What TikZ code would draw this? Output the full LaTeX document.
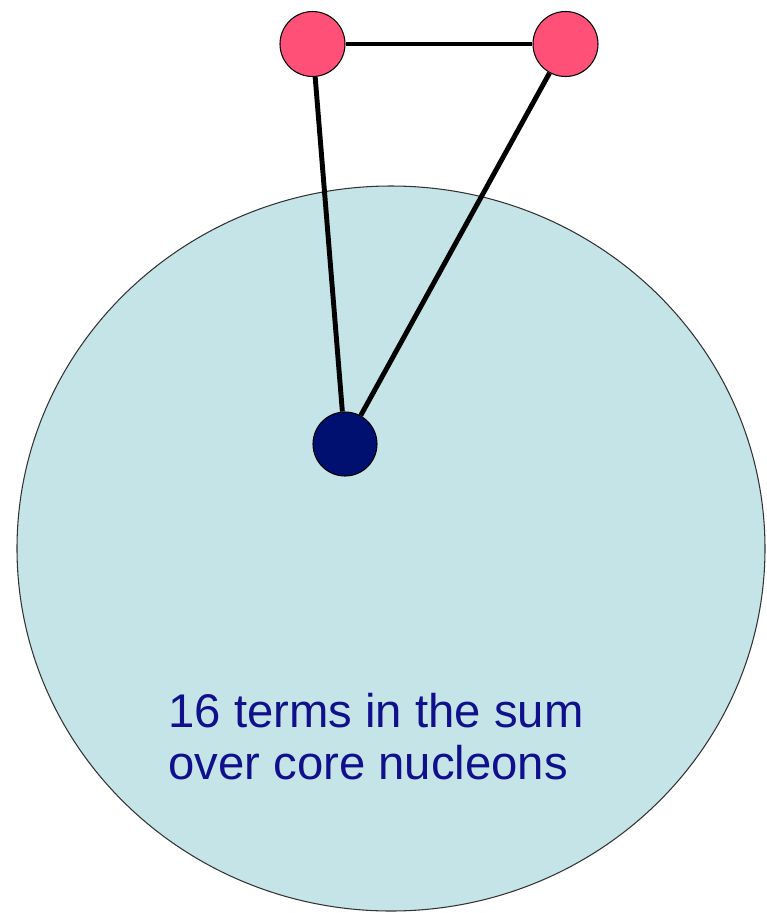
\documentclass[tikz,border=0pt]{standalone}
\usepackage{fontspec}
\setmainfont{Liberation Sans}
\usetikzlibrary{calc}
\definecolor{corefill}{RGB}{197,228,232}
\definecolor{valence}{RGB}{255,80,120}
\definecolor{corenuc}{RGB}{0,16,112}
\definecolor{textblue}{RGB}{16,16,140}

\begin{document}
\begin{tikzpicture}[
  valencenuc/.style={circle, draw=black, line width=0.6pt, fill=valence, minimum size=1.3cm, inner sep=0pt},
  corenucleon/.style={circle, draw=black, line width=0.6pt, fill=corenuc, minimum size=1.28cm, inner sep=0pt},
  bond/.style={line width=2.8pt, black}]
  \useasboundingbox (0,0) rectangle (15.34,-18.26);
  \coordinate (O) at (7.82,-10.97);

  \draw[fill=corefill, draw=black!80, line width=0.6pt] (O) ellipse (7.48 and 7.25);

  \node[valencenuc] (A) at (6.25,-0.88) {};
  \node[valencenuc] (B) at (11.31,-0.88) {};
  \node[corenucleon] (C) at (6.9,-8.88) {};

  \draw[bond] (A) -- (B);
  \draw[bond] (A) -- (C);
  \draw[bond] (B) -- (C);

  \node[anchor=north west, inner sep=0pt, align=left, text=textblue,
        font=\fontsize{26.9}{29.5}\selectfont] (L) at (3.36,-13.86)
    {16 terms in the sum\\over core nucleons};
\end{tikzpicture}
\end{document}
